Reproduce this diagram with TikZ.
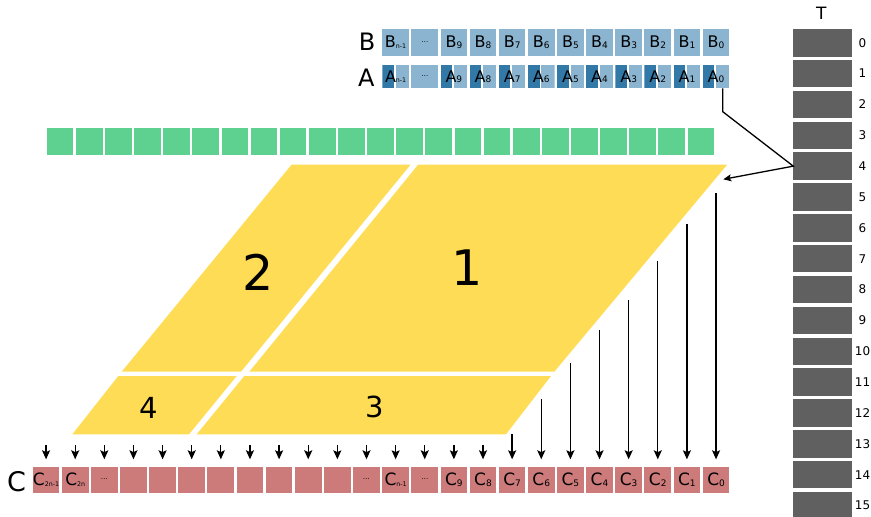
\documentclass[tikz,border=0pt]{standalone}
\usepackage{fontspec}
\setmainfont{DejaVu Sans}
\usetikzlibrary{arrows.meta}

\definecolor{bblue}{RGB}{138,180,208}
\definecolor{ablue}{RGB}{51,121,168}
\definecolor{gcell}{RGB}{94,208,143}
\definecolor{ycell}{RGB}{255,220,85}
\definecolor{ccell}{RGB}{204,122,122}
\definecolor{tcell}{RGB}{96,96,96}

% subscripts inside the cells
\newcommand{\csub}[1]{{\fontsize{9}{9}\selectfont\raisebox{-0.8pt}{#1}}}
\newcommand{\cssub}[1]{{\fontsize{6.3}{6.3}\selectfont\raisebox{-0.8pt}{#1}}}
\newcommand{\celldots}{{\fontsize{7}{7}\selectfont\raisebox{1.5pt}{…}}}

\tikzset{
  cellbox/.style={draw=none, minimum width=26.7pt, inner sep=0pt, outer sep=0pt,
    anchor=north west, font=\fontsize{16}{16}\selectfont},
  bbox/.style={cellbox, minimum height=26.4pt, fill=bblue},
  abox/.style={cellbox, minimum height=23.4pt,
    path picture={
      \fill[ablue] (path picture bounding box.north west) rectangle
        ([xshift=11.6pt]path picture bounding box.south west);
      \fill[bblue] ([xshift=13.5pt]path picture bounding box.north west) rectangle
        (path picture bounding box.south east);
    }},
  aplain/.style={cellbox, minimum height=23.4pt, fill=bblue},
  gbox/.style={cellbox, minimum height=26.7pt, fill=gcell},
  cbox/.style={cellbox, minimum height=26.7pt, fill=ccell, font=\fontsize{17}{17}\selectfont},
  tbox/.style={draw=none, fill=tcell, minimum width=59pt, minimum height=27.5pt,
    inner sep=0pt, outer sep=0pt, anchor=north west},
  tnum/.style={font=\fontsize{12}{12}\selectfont, inner sep=0pt},
  rowlabel/.style={font=\fontsize{24}{24}\selectfont, inner sep=0pt},
  block/.style={fill=ycell, draw=none},
  arr/.style={line width=1.3pt, -{Stealth[length=9pt, width=8pt, inset=1.8pt]}},
}

\begin{document}
\begin{tikzpicture}[x=1pt, y=-1pt]
\useasboundingbox (0,0) rectangle (871,517);

% ---- operand B ----
\node[rowlabel] (labB) at (367,41.5) {B};
\foreach \i in {0,...,9}
  \node[bbox] (B\i) at ({702.7-29.13*\i},29.3) {B\csub{\i}};
\node[bbox] (B10) at ({702.7-29.13*10},29.3) {\celldots};
\node[bbox] (B11) at ({702.7-29.13*11},29.3) {B\cssub{n-1}};

% ---- operand A ----
\node[rowlabel] (labA) at (366.3,77.3) {A};
\foreach \i in {0,...,9}
  \node[abox] (A\i) at ({702.7-29.13*\i},65) {A\csub{\i}};
\node[aplain] (A10) at ({702.7-29.13*10},65) {\celldots};
\node[abox] (A11) at ({702.7-29.13*11},65) {A\cssub{n-1}};

% ---- partial-product row ----
\foreach \j in {0,...,22}
  \node[gbox] (G\j) at ({687.6-29.13*\j},128.3) {};

% ---- partial products ----
\fill[block] (291.7,164.5) -- (410.7,164.5) -- (241,371.7) -- (121.7,371.7) -- cycle;
\fill[block] (418.3,164.5) -- (727.3,164.5) -- (554.3,371.7) -- (249.3,371.7) -- cycle;
\fill[block] (118.3,376) -- (236.7,376) -- (189,434.3) -- (72.3,434.3) -- cycle;
\fill[block] (244.3,376) -- (551,376) -- (506,434.3) -- (196.7,434.3) -- cycle;
\node[font=\fontsize{49}{49}\selectfont, inner sep=0pt] (p2) at (257.8,272.7) {2};
\node[font=\fontsize{49}{49}\selectfont, inner sep=0pt] (p1) at (466.7,267.5) {1};
\node[font=\fontsize{29}{29}\selectfont, inner sep=0pt] (p4) at (148.7,407.8) {4};
\node[font=\fontsize{29}{29}\selectfont, inner sep=0pt] (p3) at (374.3,407) {3};

% ---- result C ----
\node[font=\fontsize{27}{27}\selectfont, inner sep=0pt] (labC) at (16.5,481.7) {C};
\foreach \i in {0,...,9}
  \node[cbox] (C\i) at ({702.7-29.13*\i},466.7) {C\csub{\i}};
\node[cbox] (C10) at ({702.7-29.13*10},466.7) {\celldots};
\node[cbox] (C11) at ({702.7-29.13*11},466.7) {C\cssub{n-1}};
\node[cbox] (C12) at ({702.7-29.13*12},466.7) {\celldots};
\foreach \i in {13,...,20}
  \node[cbox] (C\i) at ({702.7-29.13*\i},466.7) {};
\node[cbox] (C21) at ({702.7-29.13*21},466.7) {\celldots};
\node[cbox] (C22) at ({702.7-29.13*22},466.7) {C\cssub{2n}};
\node[cbox] (C23) at ({702.7-29.13*23},466.7) {C\cssub{2n-1}};

% ---- arrows into C ----
\foreach \i/\ys in {0/193.3, 1/224, 2/261, 3/300, 4/330, 5/363.3, 6/399, 7/434} {
  \coordinate (s\i) at ({716.05-29.13*\i},\ys);
  \draw[arr, shorten >=7.4pt] (s\i) -- (s\i |- C\i.north);
}
\foreach \i in {8,...,23} {
  \coordinate (s\i) at ({716.05-29.13*\i},445);
  \draw[arr, shorten >=7.4pt] (s\i) -- (s\i |- C\i.north);
}

% ---- table T ----
\node[font=\fontsize{17}{17}\selectfont, inner sep=0pt] (labT) at (821.3,13.7) {T};
\foreach \k in {0,...,15} {
  \node[tbox] (T\k) at (793.3,{29+30.85*\k}) {};
  \node[tnum] (n\k) at (862.5,{29+30.85*\k+13.75}) {\k};
}

% ---- pointer from A0 through T4 ----
\coordinate (p1tip) at (723.3,179.3);
\draw[line width=1.3pt, -{Stealth[length=8pt, width=7pt, inset=1.8pt]}]
  ([xshift=6.7pt]A0.south) -- ++(0,23.3) -- (T4.west) -- (p1tip);
\end{tikzpicture}
\end{document}
